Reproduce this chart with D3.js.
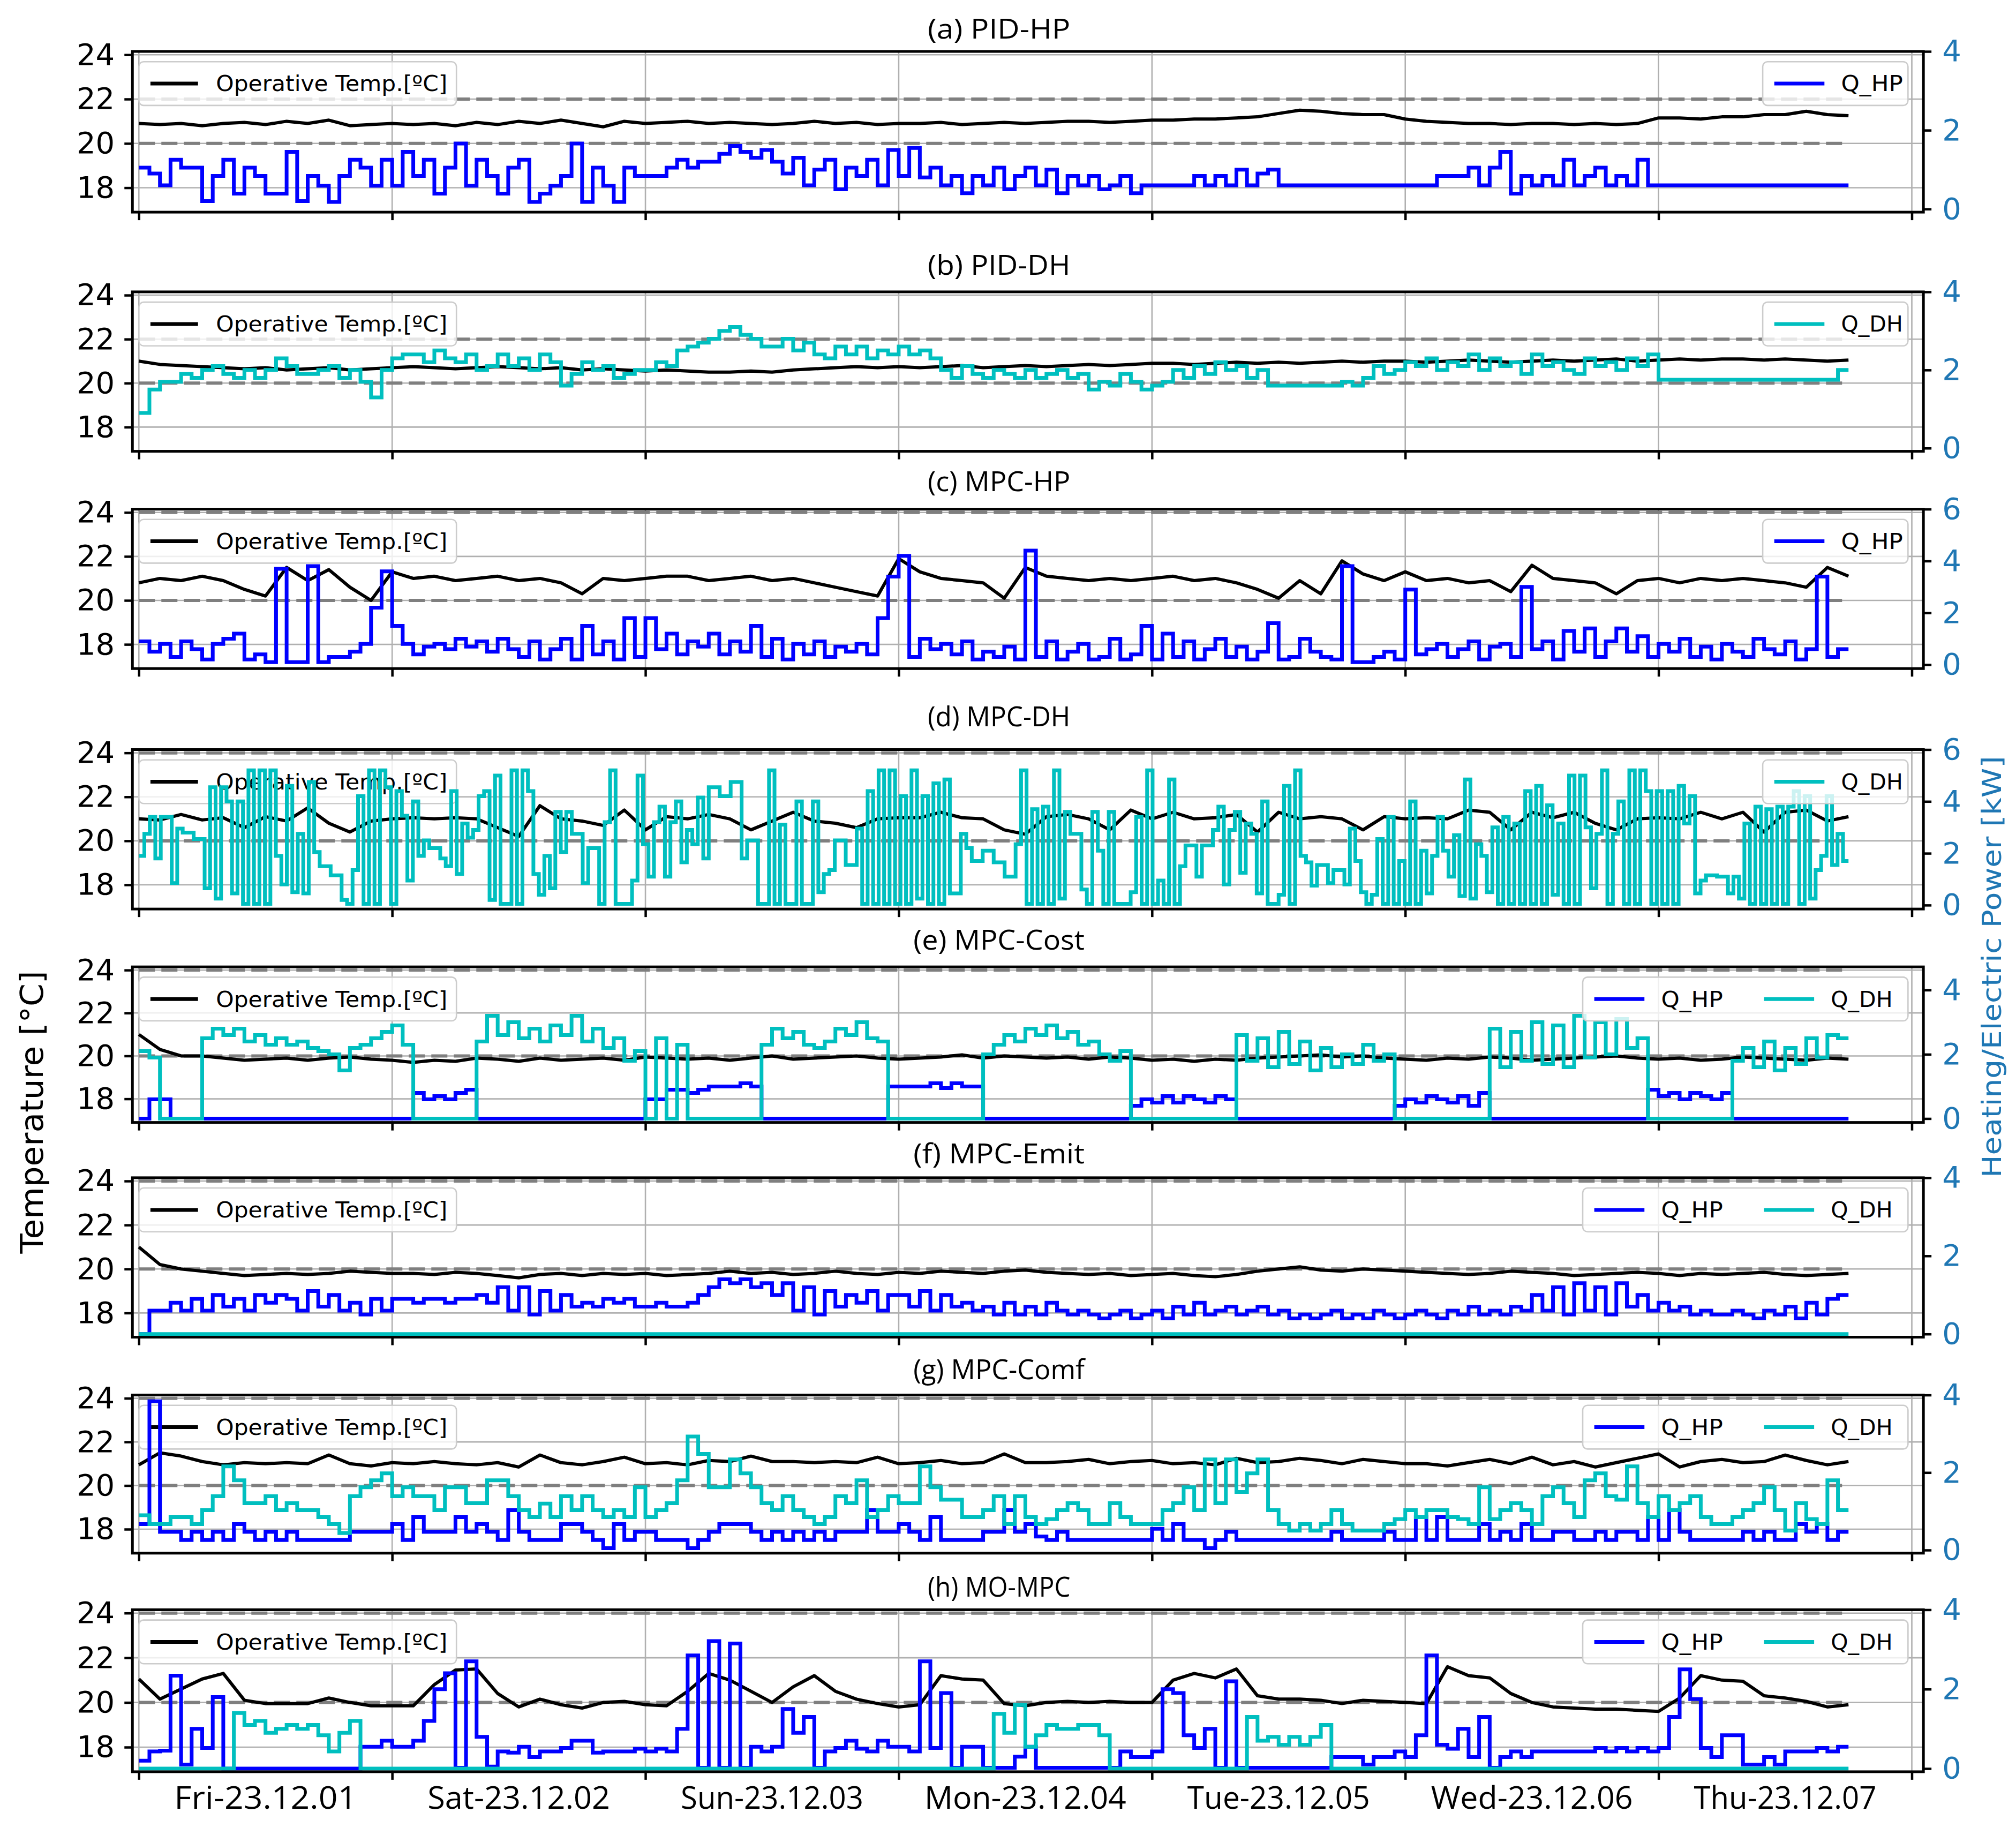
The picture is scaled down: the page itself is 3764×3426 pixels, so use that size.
<!DOCTYPE html>
<html><head><meta charset="utf-8">
<script src="https://cdn.jsdelivr.net/npm/d3@7"></script>
<style>body{margin:0;background:#fff}svg{display:block}</style>
</head><body>
<svg id="chart" width="3764" height="3426" xmlns="http://www.w3.org/2000/svg"></svg>
<script>
// ---------------- DATA ----------------
const dayLabels = ["Fri-23.12.01","Sat-23.12.02","Sun-23.12.03","Mon-23.12.04","Tue-23.12.05","Wed-23.12.06","Thu-23.12.07"];
const panelTitles = ["(a) PID-HP","(b) PID-DH","(c) MPC-HP","(d) MPC-DH","(e) MPC-Cost","(f) MPC-Emit","(g) MPC-Comf","(h) MO-MPC"];
const tempTicks = [18,20,22,24];
const totalHours = 162; // data covers Fri 00:00 .. Thu 18:00

// Operative temperature, every 2 h (a..h)
const tempA = [20.9,20.85,20.9,20.8,20.9,20.95,20.85,21.0,20.9,21.05,20.8,20.85,20.9,
 20.85,20.9,20.8,20.95,20.85,21.0,20.9,21.05,20.9,20.75,21.0,20.9,20.95,
 21.0,20.9,20.95,20.9,20.85,20.9,21.0,20.9,20.95,20.85,20.9,
 20.9,20.95,20.85,20.9,20.95,20.9,20.95,21.0,21.0,20.95,21.0,21.05,
 21.05,21.1,21.1,21.15,21.2,21.35,21.5,21.45,21.35,21.3,21.3,
 21.1,21.0,20.95,20.9,20.9,20.85,20.9,20.9,20.85,20.9,20.85,20.9,21.15,21.15,21.1,21.2,21.2,21.3,21.3,21.45,21.3,
 21.25];
const tempB = [21.0,20.85,20.8,20.75,20.7,20.65,20.7,20.6,20.65,20.7,20.6,20.65,20.7,
 20.75,20.7,20.65,20.7,20.75,20.7,20.65,20.7,20.6,20.65,20.6,20.55,20.6,
 20.55,20.5,20.5,20.55,20.5,20.6,20.65,20.7,20.75,20.7,20.75,
 20.7,20.75,20.8,20.7,20.75,20.8,20.75,20.8,20.85,20.8,20.85,20.9,
 20.9,20.85,20.9,20.95,20.9,20.95,20.9,20.95,21.0,20.95,21.0,
 21.0,20.95,21.0,21.05,21.0,20.95,21.0,21.05,21.0,21.05,21.1,21.0,21.05,21.1,21.05,21.1,21.1,21.05,21.1,21.05,21.0,
 21.05];
const tempC = [20.8,21.0,20.9,21.1,20.9,20.5,20.2,21.5,20.9,21.4,20.6,20.0,21.3,
 21.0,21.1,20.9,21.0,21.1,20.9,21.0,20.8,20.3,21.0,20.9,21.0,21.1,
 21.1,20.9,21.0,21.1,20.9,21.0,20.8,20.6,20.4,20.2,21.9,
 21.3,21.0,20.9,20.8,20.1,21.5,21.1,21.0,20.9,21.0,20.9,21.0,
 21.1,20.9,21.0,20.8,20.5,20.1,20.9,20.3,21.8,21.2,20.9,
 21.3,20.9,21.0,20.8,20.9,20.4,21.6,21.0,20.9,20.8,20.3,20.9,21.0,20.8,21.0,20.9,21.0,20.9,20.8,20.6,21.5,
 21.1];
const tempD = [21.0,20.95,21.2,20.95,21.05,20.6,21.1,20.9,21.5,20.8,20.4,20.9,21.0,
 21.05,21.0,21.05,21.0,20.6,20.2,21.6,21.0,20.9,20.7,21.4,20.5,21.1,
 21.0,21.2,21.0,20.5,20.9,21.3,20.9,20.8,20.6,21.0,21.05,
 21.05,21.3,21.05,21.0,20.5,20.3,21.1,21.2,21.0,20.5,21.4,21.0,
 21.3,21.0,21.05,21.2,20.4,21.3,21.0,21.1,21.0,20.5,21.1,
 21.0,21.05,21.0,21.4,21.3,20.5,21.3,21.05,21.3,20.8,20.5,21.0,21.05,21.0,21.3,21.0,21.3,20.4,21.3,21.4,20.9,
 21.1];
const tempE = [21.0,20.3,20.0,20.0,19.9,19.8,19.85,19.9,19.8,19.9,19.95,19.85,19.8,
 19.7,19.8,19.75,19.9,19.85,19.75,19.9,19.8,19.85,19.9,19.8,19.95,19.9,
 19.85,19.9,19.8,19.9,20.0,19.85,19.9,19.95,20.0,19.9,19.85,
 19.9,19.95,20.05,19.9,20.0,19.95,19.9,19.95,19.85,19.95,19.9,19.8,
 19.85,19.75,19.85,19.8,19.9,19.95,20.0,20.05,19.95,20.0,19.9,
 19.85,19.8,19.9,19.85,19.95,19.9,19.8,19.85,19.9,19.95,20.0,19.9,19.85,19.9,19.8,19.85,19.95,19.9,19.85,19.8,19.9,
 19.85];
const tempF = [21.0,20.2,20.0,19.9,19.8,19.7,19.75,19.8,19.75,19.8,19.9,19.85,19.8,
 19.8,19.75,19.85,19.8,19.7,19.6,19.75,19.8,19.7,19.8,19.75,19.8,19.7,
 19.75,19.8,19.9,19.8,19.85,19.75,19.8,19.9,19.8,19.75,19.85,
 19.8,19.9,19.85,19.8,19.9,19.95,19.85,19.8,19.75,19.8,19.7,19.75,
 19.8,19.7,19.65,19.75,19.9,20.0,20.1,19.95,19.9,20.0,19.95,
 19.9,19.85,19.8,19.75,19.8,19.9,19.85,19.8,19.7,19.75,19.8,19.85,19.8,19.7,19.8,19.75,19.8,19.85,19.75,19.7,19.75,
 19.8];
const tempG = [20.95,21.5,21.35,21.1,20.95,21.05,21.0,21.05,21.0,21.4,21.0,20.9,21.05,
 21.0,21.1,21.0,20.95,21.05,20.85,21.4,21.05,20.95,21.1,21.3,21.0,21.05,
 20.95,21.15,21.1,21.35,21.1,21.1,21.05,21.1,21.05,21.3,21.0,
 21.05,21.15,21.0,21.05,21.45,21.05,21.05,21.1,21.2,21.0,21.1,21.15,
 21.0,21.05,20.95,21.25,21.05,21.1,21.25,21.15,21.0,21.2,21.1,
 21.0,21.0,20.9,21.05,21.2,21.0,21.3,20.95,21.1,20.85,21.05,21.25,21.45,20.85,21.1,21.2,21.05,21.1,21.4,21.15,20.95,
 21.1];
const tempH = [21.05,20.15,20.6,21.05,21.3,20.1,19.95,19.95,19.95,20.2,20.0,19.85,19.85,
 19.85,20.8,21.45,21.5,20.4,19.8,20.15,19.9,19.75,20.0,20.05,19.9,19.85,
 20.5,21.3,21.0,20.5,20.0,20.7,21.2,20.5,20.15,19.95,19.8,
 19.9,21.2,21.05,21.0,19.95,19.85,20.0,20.05,20.0,20.05,20.0,20.0,
 21.0,21.3,21.1,21.5,20.3,20.15,20.15,20.1,19.95,20.1,20.05,
 20.0,19.95,21.6,21.2,21.1,20.4,20.0,19.8,19.75,19.7,19.7,19.65,19.6,20.2,21.2,21.0,20.95,20.3,20.2,20.05,19.8,
 19.9];

// Heat-pump power Q_HP [kW], hourly
const hpA = [1.05,0.9,0.6,1.25,1.05,1.05,0.2,0.84,1.25,0.39,1.05,0.84,0.39,0.39,1.45,0.2,0.84,0.59,0.18,0.84,1.25,1.05,0.59,1.25,
 0.59,1.45,0.84,1.25,0.39,1.05,1.66,0.59,1.25,0.84,0.39,1.05,1.25,0.18,0.39,0.59,0.84,1.66,0.18,1.05,0.59,0.18,1.05,0.84,
 0.84,0.84,1.05,1.25,1.05,1.2,1.2,1.4,1.6,1.45,1.3,1.5,1.2,
 0.9,1.3,0.6,1.0,1.25,0.5,1.05,0.84,1.25,0.6,1.5,0.84,
 1.55,0.8,1.05,0.6,0.84,0.4,0.84,0.6,1.05,0.5,0.84,1.05,0.6,1.0,0.4,0.84,0.6,0.84,0.5,0.6,0.84,0.4,0.6,0.6,
 0.6,0.6,0.6,0.84,0.6,0.84,0.6,1.0,0.6,0.9,1.0,0.6,
 0.6,0.6,0.6,0.6,0.6,0.6,0.6,0.6,0.6,0.6,0.6,0.6,0.6,0.6,
 0.84,0.84,0.84,1.05,0.6,1.05,1.45,0.39,0.84,0.6,0.84,0.6,1.25,0.6,0.84,1.05,0.6,0.84,0.6,1.25,
 0.6,0.6,0.6,0.6,0.6,0.6,0.6,0.6,0.6,0.6,0.6,0.6,0.6,0.6,0.6,0.6,0.6,0.6,0.6];
const hpC = [0.9,0.5,0.8,0.3,0.9,0.6,0.2,0.8,1.0,1.2,0.2,0.4,
 0.1,3.7,0.1,0.1,3.8,0.1,0.3,0.3,0.5,0.8,2.2,3.6,
 1.5,0.8,0.4,0.7,0.8,0.6,1.0,0.7,0.9,0.5,1.0,0.6,
 0.3,0.9,0.2,0.6,1.0,0.2,1.5,0.4,0.9,0.2,1.8,0.3,
 1.8,0.6,1.2,0.4,0.9,0.7,1.2,0.4,0.9,0.5,1.5,0.3,
 1.0,0.2,0.8,0.4,0.9,0.3,0.7,0.5,0.8,0.4,1.8,3.4,
 4.2,0.3,1.0,0.6,0.8,0.4,0.9,0.2,0.5,0.3,0.7,0.2,
 4.4,0.3,0.9,0.2,0.5,0.8,0.2,0.3,1.0,0.2,0.4,1.5,
 0.2,1.2,0.3,0.9,0.2,0.6,1.0,0.3,0.7,0.2,0.5,1.6,
 0.2,0.3,1.0,0.5,0.3,0.2,3.8,0.1,0.1,0.3,0.5,0.2,
 2.9,0.4,0.6,0.8,0.3,0.6,0.9,0.2,0.7,0.8,0.3,3.0,
 0.6,0.9,0.2,1.3,0.5,1.4,0.3,0.9,1.4,0.5,1.1,0.3,
 0.8,0.5,1.0,0.3,0.7,0.2,0.8,0.5,0.3,1.0,0.6,0.4,0.9,0.2,0.6,3.4,0.3,0.6];
const hpE = [0,0.6,0.6,
 0,0,0,0,0,0,0,0,0,0,0,0,0,0,0,0,0,0,0,0,0,0,0,
 0.8,0.6,0.7,0.6,0.8,0.9,
 0,0,0,0,0,0,0,0,0,0,0,0,0,0,0,0,
 0.6,0.6,0.9,0.9,0.8,0.9,1.0,1.0,1.0,1.1,1.0,
 0,0,0,0,0,0,0,0,0,0,0,0,
 1.0,1.0,1.0,1.0,1.1,0.95,1.1,1.0,1.0,
 0,0,0,0,0,0,0,0,0,0,0,0,0,0,
 0.4,0.6,0.5,0.7,0.5,0.7,0.6,0.5,0.7,0.6,
 0,0,0,0,0,0,0,0,0,0,0,0,0,0,0,
 0.4,0.6,0.5,0.7,0.6,0.5,0.7,0.4,0.8,
 0,0,0,0,0,0,0,0,0,0,0,0,0,0,0,
 0.9,0.7,0.8,0.6,0.8,0.7,0.6,0.8,
 0,0,0,0,0,0,0,0,0,0,0];
const hpF = [0,0.6,0.6,0.8,0.6,0.9,0.6,1.0,0.7,0.9,0.6,1.0,
 0.8,1.0,0.9,0.6,1.1,0.7,1.0,0.6,0.8,0.5,0.9,0.6,
 0.9,0.9,0.8,0.9,0.9,0.8,0.9,0.9,1.0,0.8,1.2,0.6,
 1.2,0.5,1.1,0.6,1.0,0.7,0.8,0.7,0.9,0.8,0.9,0.7,
 0.7,0.8,0.7,0.7,0.8,1.0,1.2,1.4,1.3,1.4,1.2,1.3,
 1.0,1.3,0.6,1.2,0.5,1.1,0.7,1.0,0.8,1.1,0.6,1.0,
 1.0,0.7,1.1,0.6,1.0,0.7,0.8,0.6,0.7,0.5,0.8,0.5,
 0.7,0.5,0.8,0.6,0.5,0.6,0.5,0.4,0.5,0.6,0.4,0.5,
 0.6,0.4,0.7,0.5,0.8,0.5,0.6,0.7,0.5,0.6,0.7,0.5,
 0.6,0.4,0.5,0.4,0.5,0.6,0.4,0.5,0.4,0.6,0.5,0.4,
 0.5,0.6,0.5,0.4,0.6,0.5,0.7,0.5,0.6,0.5,0.7,0.6,
 1.0,0.6,1.2,0.5,1.3,0.6,1.2,0.5,1.3,0.7,1.0,0.6,
 0.8,0.6,0.7,0.5,0.6,0.5,0.5,0.6,0.5,0.4,0.6,0.5,0.7,0.4,0.8,0.5,0.9,1.0];
const hpG = [0.67,3.84,0.47,0.47,0.26,0.47,0.26,0.47,0.26,0.67,
 0.47,0.26,0.47,0.26,0.47,0.26,0.26,0.26,0.26,0.26,
 0.47,0.47,0.47,0.47,0.67,0.26,0.85,0.47,0.47,0.47,
 0.85,0.47,0.67,0.47,0.26,1.03,0.47,0.26,0.26,0.26,
 0.67,0.67,0.47,0.26,0.05,0.67,0.26,0.47,0.47,0.26,
 0.26,0.26,0.05,0.26,0.47,0.67,0.67,0.67,0.47,0.26,
 0.47,0.26,0.47,0.26,0.47,0.26,0.47,0.47,0.47,1.03,
 0.47,0.47,0.67,0.47,0.26,0.85,0.26,0.26,0.26,0.26,
 0.47,0.47,1.03,0.47,0.67,
 0.35,0.26,0.47,0.26,0.26,0.26,0.26,0.26,0.26,0.26,0.26,
 0.55,0.26,0.67,0.26,0.26,0.05,0.26,0.47,
 0.26,0.26,0.26,0.26,0.26,0.26,0.26,0.26,0.26,
 0.47,0.26,0.26,0.26,0.26,0.47,0.26,0.26,
 0.85,0.26,0.85,0.26,0.26,0.26,
 0.67,0.26,0.47,0.26,0.67,0.26,0.26,
 0.47,0.47,0.26,0.26,0.47,0.26,0.47,0.47,0.26,
 0.85,0.26,1.03,0.47,
 0.26,0.26,0.26,0.26,0.26,
 0.47,0.26,0.47,0.26,0.26,0.67,0.47,0.67,0.26,0.47];
const hpH = [0.2,0.43,0.45,2.34,0.1,1.0,0.52,1.8,
 0,0,0,0,0,0,0,0,0,0,0,0,0,
 0.55,0.55,0.7,0.55,0.55,0.7,1.2,2.0,2.4,0.02,2.7,0.8,0.05,0.43,0.4,0.55,0.29,0.43,0.43,0.52,
 0.7,0.7,0.4,0.43,0.43,0.43,0.5,0.43,0.5,0.43,1.0,2.85,0.02,3.21,0.02,3.15,0.02,0.55,0.43,0.55,
 1.5,0.9,1.3,0.02,0.43,0.52,0.7,0.5,0.43,0.7,0.55,0.55,0.43,2.7,0.52,1.9,0.02,0.55,0.55,0.02,
 0.02,0.02,0.3,0.55,
 0.02,0.02,0.02,0.02,0.02,0.02,0.02,0.02,
 0.43,0.29,0.29,0.43,2.0,1.9,0.84,0.52,1.0,0.02,2.2,0.02,
 0.02,0.02,0.02,0.02,0.02,0.02,0.02,0.02,
 0.29,0.29,0.29,0.1,0.29,0.29,0.43,0.29,0.84,2.85,0.6,0.5,1.0,0.29,1.3,0.02,0.29,0.43,0.29,0.43,
 0.43,0.43,0.43,0.43,0.43,0.52,0.43,0.52,0.43,0.52,0.43,0.52,1.3,2.5,1.75,0.52,0.29,0.84,0.84,0.1,
 0.1,0.29,0.1,0.43,0.43,0.43,0.52,0.43,0.55];

// District-heating power Q_DH [kW], hourly (d: ~half-hourly)
const dhB = [0.9,1.5,1.7,1.7,1.9,1.8,2.0,2.1,1.9,1.8,2.0,1.8,
 2.0,2.3,2.1,1.9,1.9,2.0,2.1,1.8,2.0,1.7,1.3,2.0,
 2.3,2.4,2.4,2.2,2.5,2.3,2.2,2.4,2.0,2.1,2.4,2.1,
 2.3,2.0,2.4,2.2,1.6,1.9,2.2,2.0,2.1,1.8,1.9,2.0,
 2.0,2.2,2.1,2.5,2.6,2.7,2.8,3.0,3.1,2.9,2.8,2.6,
 2.6,2.8,2.5,2.7,2.4,2.3,2.6,2.4,2.6,2.3,2.5,2.4,
 2.6,2.4,2.5,2.3,2.0,1.8,2.1,1.9,1.8,2.0,1.9,1.8,
 2.0,1.8,1.9,2.0,1.8,1.9,1.5,1.7,1.6,1.9,1.7,1.5,
 1.6,1.7,2.0,1.8,2.1,1.9,2.2,2.0,2.1,1.8,2.0,1.6,
 1.6,1.6,1.6,1.6,1.6,1.6,1.7,1.6,1.8,2.1,1.9,2.0,
 2.2,2.1,2.3,2.0,2.2,2.1,2.4,2.0,2.3,2.1,2.2,1.9,
 2.4,2.1,2.2,2.0,1.9,2.3,2.1,2.2,2.0,2.3,2.1,2.4,
 1.75,1.75,1.75,1.75,1.75,1.75,1.75,1.75,1.75,1.75,1.75,1.75,1.75,1.75,1.75,1.75,1.75,2.0];
const dhD = [1.9,2.75,3.4,1.8,3.4,3.4,0.85,2.95,2.8,2.8,
 2.55,2.55,0.65,4.55,0.25,4.55,4.0,0.45,4.0,0.05,
 5.2,0.05,5.2,0.05,5.2,1.9,0.8,4.6,0.5,2.75,
 0.45,4.75,2.05,1.5,1.5,1.15,1.15,0.2,0.05,1.35,
 4.2,0.05,5.2,0.05,5.2,4.55,0.05,4.4,3.45,0.95,
 4.0,1.9,2.5,2.2,2.2,1.8,1.5,4.4,1.2,3.15,
 2.6,2.9,4.2,4.4,0.2,5.0,0.05,0.05,5.2,0.05,
 5.2,4.4,1.2,0.4,1.9,0.65,3.6,2.05,3.6,2.75,
 2.75,0.85,2.2,2.2,0.05,3.2,5.2,0.05,0.05,0.05,
 0.95,5.0,2.35,1.1,3.2,3.8,1.1,3.2,4.0,1.65,
 2.9,2.35,4.15,1.8,4.55,4.55,4.2,4.2,4.75,4.75,
 1.8,2.5,2.5,0.05,0.05,5.2,0.05,3.1,0.05,0.05,
 4.0,0.05,0.05,4.0,0.5,1.2,1.35,2.5,2.5,1.55,
 1.55,2.95,0.05,4.4,0.05,5.2,0.05,5.2,0.05,4.2,
 0.05,5.2,0.25,4.2,0.05,4.7,0.05,4.85,0.45,0.45,
 2.75,2.2,1.7,1.7,2.1,2.1,1.65,1.65,1.1,1.1,
 2.35,5.2,0.05,3.7,
 0.05,3.8,0.05,5.2,0.25,3.6,2.75,2.75,0.6,0.05,
 3.6,2.1,0.05,3.6,0.05,0.05,0.05,0.5,3.4,0.05,
 5.2,0.05,0.95,0.05,4.85,0.05,1.5,2.3,2.3,1.1,
 2.3,2.3,2.9,3.8,0.8,2.9,3.6,1.25,3.15,2.75,
 0.45,4.0,0.05,0.05,0.4,4.6,0.05,5.2,1.9,1.65,
 0.75,1.55,1.55,0.85,1.35,1.35,0.8,2.95,1.7,0.5,
 0.05,0.4,2.55,0.05,3.4,0.05,1.7,0.05,4.0,0.05,
 2.1,0.45,1.9,3.4,2.1,1.1,2.7,0.35,4.85,0.25,
 2.35,1.9,0.5,3.0,0.05,3.4,0.05,3.15,0.05,4.4,
 0.05,4.6,0.05,3.85,0.4,3.15,0.05,5.0,0.05,5.0,
 3.0,0.65,2.75,5.2,0.05,2.75,4.0,0.05,5.2,0.05,
 5.2,4.4,0.05,4.4,0.05,4.4,0.05,4.6,3.15,4.2,
 0.45,0.95,1.15,1.15,1.1,1.1,0.45,1.1,0.25,3.15,
 0.05,3.8,0.05,3.7,0.05,3.8,0.05,3.8,4.4,0.05,
 4.2,0.25,1.35,1.9,4.2,1.55,2.75,1.7];
const dhE = [2.1,1.9,0,0,0,0,
 2.5,2.8,2.6,2.8,2.4,2.6,2.3,2.5,2.3,2.4,2.2,2.1,2.0,1.5,2.2,2.3,2.5,2.7,2.9,2.3,
 0,0,0,0,0,0,
 2.4,3.2,2.6,3.0,2.5,2.8,2.4,2.9,2.6,3.2,2.4,2.8,2.2,2.5,1.8,2.1,
 0,2.5,0,2.3,0,0,0,0,0,0,0,
 2.3,2.8,2.5,2.7,2.3,2.2,2.4,2.8,2.6,3.0,2.5,2.4,
 0,0,0,0,0,0,0,0,0,
 2.0,2.3,2.6,2.4,2.8,2.6,2.9,2.5,2.7,2.3,2.4,2.0,1.8,2.1,
 0,0,0,0,0,0,0,0,0,0,
 2.6,1.8,2.5,1.6,2.7,1.7,2.4,1.5,2.2,1.6,2.0,1.7,2.3,1.8,2.0,
 0,0,0,0,0,0,0,0,0,
 2.8,1.6,2.7,1.8,3.0,1.7,2.9,1.6,3.2,1.9,3.0,2.0,3.1,2.2,2.5,
 0,0,0,0,0,0,0,0,
 1.8,2.2,1.6,2.4,1.5,2.2,1.7,2.5,1.9,2.6,2.5];
const dhF = [0,0,0,0,0,0,0,0,0,0,0,0,0,0,0,0,0,0,0,0,0,0,0,0,0,0,0,
 0,0,0,0,0,0,0,0,0,0,0,0,0,0,0,0,0,0,0,0,0,0,0,0,0,0,0,
 0,0,0,0,0,0,0,0,0,0,0,0,0,0,0,0,0,0,0,0,0,0,0,0,0,0,0,
 0,0,0,0,0,0,0,0,0,0,0,0,0,0,0,0,0,0,0,0,0,0,0,0,0,0,0,
 0,0,0,0,0,0,0,0,0,0,0,0,0,0,0,0,0,0,0,0,0,0,0,0,0,0,0,
 0,0,0,0,0,0,0,0,0,0,0,0,0,0,0,0,0,0,0,0,0,0,0,0,0,0,0];
const dhG = [0.9,0.67,0.67,0.85,0.85,0.67,1.03,1.39,2.16,1.8,
 1.21,1.21,1.39,1.03,1.21,1.03,1.03,0.85,0.67,0.44,
 1.39,1.62,1.8,1.98,1.39,1.62,1.39,1.39,1.03,1.62,
 1.62,1.21,1.21,1.8,1.8,1.39,1.03,0.85,1.2,0.85,
 1.39,1.03,1.39,1.03,0.85,1.03,0.85,1.62,0.85,1.03,
 1.21,1.8,2.93,2.48,1.62,1.62,2.34,1.98,1.62,1.21,
 1.03,1.39,1.03,0.85,0.67,0.85,1.39,1.21,1.8,0.85,
 1.03,1.39,1.21,1.21,2.16,1.62,1.3,1.3,0.85,0.85,
 1.03,1.39,0.67,1.39,0.85,
 0.67,0.8,1.03,1.21,1.03,0.67,0.67,1.21,0.85,0.67,
 0.67,0.67,1.03,1.21,1.62,1.03,2.34,1.21,2.34,1.5,
 1.98,2.34,1.03,0.67,0.5,0.67,0.5,0.67,1.03,0.67,
 0.5,0.5,0.5,0.67,0.8,1.03,0.85,1.03,1.03,0.85,
 0.8,0.67,1.62,0.8,1.03,1.21,1.03,0.67,1.39,1.62,
 1.21,0.85,1.8,1.98,1.39,1.3,2.16,1.21,0.85,1.39,
 1.03,1.21,1.39,0.85,0.67,0.67,0.85,1.03,1.21,1.62,
 1.03,0.5,1.21,0.8,0.67,1.8,1.03];
const dhH = [0,0,0,0,0,0,0,0,0,
 1.4,1.1,1.2,0.9,1.0,1.1,1.0,1.1,0.84,0.43,0.9,1.2,
 0,0,0,0,0,0,0,0,0,0,0,0,0,0,0,0,0,0,0,0,
 0,0,0,0,0,0,0,0,0,0,0,0,0,0,0,0,0,0,0,0,
 0,0,0,0,0,0,0,0,0,0,0,0,0,0,0,0,0,0,0,0,
 1.38,0.9,1.6,0.55,
 0.84,1.1,1.0,1.0,1.1,1.1,0.84,
 0,0,0,0,0,0,0,0,0,0,0,0,0,
 1.3,0.7,0.8,0.6,0.8,0.6,0.8,1.1,
 0,0,0,0,0,0,0,0,0,0,0,0,0,0,0,0,0,0,0,0,0,0,0,0,0,
 0,0,0,0,0,0,0,0,0,0,0,0,0,0,0,0,0,0,0,0,0,0,0,0];

// ---------------- LAYOUT ----------------
const S = 3764 / 1568;          // layout units -> pixels
const COL_HP = "#0000ff", COL_DH = "#00bfbf", COL_AX2 = "#1f77b4";
const FONT = "DejaVu Sans";
const panels = [
  {top:40,   h:125, titleY:22,   rDom:[-0.08,4.0],  rTicks:[0,2,4],   band:[20,22], temp:tempA, hp:hpA, dh:null},
  {top:227,  h:124, titleY:206,  rDom:[-0.08,4.0],  rTicks:[0,2,4],   band:[20,22], temp:tempB, hp:null, dh:dhB},
  {top:396,  h:124, titleY:374,  rDom:[-0.15,6.0],  rTicks:[0,2,4,6], band:[20,24], temp:tempC, hp:hpC, dh:null},
  {top:583,  h:124, titleY:557,  rDom:[-0.15,6.0],  rTicks:[0,2,4,6], band:[20,24], temp:tempD, hp:null, dh:dhD},
  {top:752,  h:121, titleY:731,  rDom:[-0.12,4.72], rTicks:[0,2,4],   band:[20,24], temp:tempE, hp:hpE, dh:dhE},
  {top:916,  h:124, titleY:897,  rDom:[-0.08,4.0],  rTicks:[0,2,4],   band:[20,24], temp:tempF, hp:hpF, dh:dhF},
  {top:1085, h:123, titleY:1065, rDom:[-0.08,4.0],  rTicks:[0,2,4],   band:[20,24], temp:tempG, hp:hpG, dh:dhG},
  {top:1252, h:126, titleY:1234, rDom:[-0.08,4.0],  rTicks:[0,2,4],   band:[20,24], temp:tempH, hp:hpH, dh:dhH}
];
const L = 103*S, R = 1496*S;
const x = d3.scaleLinear().domain([-0.61, 169.1]).range([L, R]);
const svg = d3.select("#chart");
svg.append("rect").attr("width",3764).attr("height",3426).attr("fill","#fff");

const TEMP_W = 6, POW_W = 7;

function stepPoints(arr){
  const dt = totalHours / arr.length;
  const pts = arr.map((v,i)=>[i*dt, v]);
  pts.push([totalHours, arr[arr.length-1]]);
  return pts;
}
function tempPoints(arr){
  const dt = totalHours / (arr.length-1);
  return arr.map((v,i)=>[i*dt, v]);
}

panels.forEach((p, pi) => {
  const y0 = p.top*S, y1 = (p.top+p.h)*S;
  const yl = d3.scaleLinear().domain([16.9, 24.15]).range([y1, y0]);
  const yr = d3.scaleLinear().domain(p.rDom).range([y1, y0]);
  const g = svg.append("g");
  const clipId = "clip"+pi;
  svg.append("clipPath").attr("id", clipId).append("rect")
     .attr("x", L).attr("y", y0).attr("width", R-L).attr("height", y1-y0);
  const inner = g.append("g").attr("clip-path", `url(#${clipId})`);

  // grid
  d3.range(0, 8).forEach(d => {
    inner.append("line").attr("x1", x(d*24)).attr("x2", x(d*24)).attr("y1", y0).attr("y2", y1)
      .attr("stroke", "#b0b0b0").attr("stroke-width", 2.6);
  });
  tempTicks.forEach(t => {
    inner.append("line").attr("x1", L).attr("x2", R).attr("y1", yl(t)).attr("y2", yl(t))
      .attr("stroke", "#b0b0b0").attr("stroke-width", 2.6);
  });
  // comfort band (dashed)
  p.band.forEach(t => {
    inner.append("line").attr("x1", x(0)).attr("x2", x(totalHours)).attr("y1", yl(t)).attr("y2", yl(t))
      .attr("stroke", "#7f7f7f").attr("stroke-width", 6).attr("stroke-dasharray", "30,12");
  });
  // temperature
  const tLine = d3.line().x(d=>x(d[0])).y(d=>yl(d[1]));
  inner.append("path").attr("d", tLine(tempPoints(p.temp))).attr("fill","none")
    .attr("stroke","#000").attr("stroke-width",TEMP_W).attr("stroke-linejoin","round");

  // left legend (belongs to the temperature axis, under power lines)
  const lg = g.append("g");
  lg.append("rect").attr("x",108*S).attr("y",(p.top+8)*S).attr("width",247*S).attr("height",34*S)
    .attr("rx",9).attr("fill","#fff").attr("fill-opacity",0.8).attr("stroke","#cccccc").attr("stroke-width",2.6);
  lg.append("line").attr("x1",117*S).attr("x2",154*S).attr("y1",(p.top+25)*S).attr("y2",(p.top+25)*S)
    .attr("stroke","#000").attr("stroke-width",TEMP_W+1);
  lg.append("text").attr("x",168*S).attr("y",(p.top+25)*S).attr("dy","0.35em")
    .attr("font-family",FONT).attr("font-size",41).attr("textLength",180*S).attr("lengthAdjust","spacingAndGlyphs")
    .text("Operative Temp.[ºC]");

  // power lines
  const pLine = d3.line().curve(d3.curveStepAfter).x(d=>x(d[0])).y(d=>yr(d[1]));
  const inner2 = g.append("g").attr("clip-path", `url(#${clipId})`);
  if (p.hp) inner2.append("path").attr("d", pLine(stepPoints(p.hp))).attr("fill","none")
    .attr("stroke",COL_HP).attr("stroke-width",POW_W).attr("stroke-linejoin","miter");
  if (p.dh) inner2.append("path").attr("d", pLine(stepPoints(p.dh))).attr("fill","none")
    .attr("stroke",COL_DH).attr("stroke-width",POW_W).attr("stroke-linejoin","miter");

  // right legend
  const entries = [];
  if (p.hp) entries.push(["Q_HP", COL_HP]);
  if (p.dh) entries.push(["Q_DH", COL_DH]);
  const rg = g.append("g");
  const boxX = entries.length === 2 ? 1231 : 1371;
  rg.append("rect").attr("x",boxX*S).attr("y",(p.top+8)*S).attr("width",(1484-boxX)*S).attr("height",34*S)
    .attr("rx",9).attr("fill","#fff").attr("fill-opacity",0.8).attr("stroke","#cccccc").attr("stroke-width",2.6);
  entries.forEach((e, i) => {
    const lx = boxX + 9 + i*132;
    rg.append("line").attr("x1",lx*S).attr("x2",(lx+39)*S).attr("y1",(p.top+25)*S).attr("y2",(p.top+25)*S)
      .attr("stroke",e[1]).attr("stroke-width",POW_W);
    rg.append("text").attr("x",(lx+52)*S).attr("y",(p.top+25)*S).attr("dy","0.35em")
      .attr("font-family",FONT).attr("font-size",41).attr("textLength",48*S).attr("lengthAdjust","spacingAndGlyphs")
      .text(e[0]);
  });

  // frame
  g.append("rect").attr("x",L).attr("y",y0).attr("width",R-L).attr("height",y1-y0)
    .attr("fill","none").attr("stroke","#000").attr("stroke-width",5);

  // axes
  const axL = g.append("g").attr("transform",`translate(${L},0)`)
    .call(d3.axisLeft(yl).tickValues(tempTicks).tickSize(15).tickPadding(18));
  axL.select(".domain").remove();
  axL.selectAll("line").attr("stroke","#000").attr("stroke-width",4.5);
  axL.selectAll("text").attr("font-family",FONT).attr("font-size",56).attr("fill","#000");

  const axR = g.append("g").attr("transform",`translate(${R},0)`)
    .call(d3.axisRight(yr).tickValues(p.rTicks).tickFormat(d3.format("d")).tickSize(15).tickPadding(20));
  axR.select(".domain").remove();
  axR.selectAll("line").attr("stroke","#000").attr("stroke-width",4.5);
  axR.selectAll("text").attr("font-family",FONT).attr("font-size",56).attr("fill",COL_AX2);

  const axB = g.append("g").attr("transform",`translate(0,${y1})`)
    .call(d3.axisBottom(x).tickValues(d3.range(0,8).map(d=>d*24)).tickSize(15).tickFormat(""));
  axB.select(".domain").remove();
  axB.selectAll("line").attr("stroke","#000").attr("stroke-width",4.5);

  // title
  const tl = panelTitles[pi].length;
  svg.append("text").attr("x",777*S).attr("y",p.titleY*S).attr("dy","0.36em").attr("text-anchor","middle")
    .attr("font-family","Open Sans").attr("font-size",52).attr("fill","#000")
    .attr("textLength", tl*11.1*S).attr("lengthAdjust","spacingAndGlyphs").text(panelTitles[pi]);
});

// day labels (bottom panel, at noon)
dayLabels.forEach((lab, i) => {
  svg.append("text").attr("x", x(i*24+12)).attr("y", 1398*S).attr("dy","0.36em").attr("text-anchor","middle")
    .attr("font-family","Open Sans").attr("font-size",58).attr("fill","#000")
    .attr("textLength", (lab.startsWith("Mon")||lab.startsWith("Wed") ? 157 : 142)*S).attr("lengthAdjust","spacingAndGlyphs")
    .text(lab);
});

// axis titles
svg.append("text").attr("transform",`translate(${25*S},${865*S}) rotate(-90)`).attr("dy","0.35em")
  .attr("text-anchor","middle").attr("font-family",FONT).attr("font-size",58)
  .attr("textLength",220*S).attr("lengthAdjust","spacingAndGlyphs").text("Temperature  [°C]");
svg.append("text").attr("transform",`translate(${1549*S},${752*S}) rotate(-90)`).attr("dy","0.35em")
  .attr("text-anchor","middle").attr("font-family",FONT).attr("font-size",50).attr("fill",COL_AX2)
  .attr("textLength",328*S).attr("lengthAdjust","spacingAndGlyphs").text("Heating/Electric Power [kW]");
</script>
</body></html>
